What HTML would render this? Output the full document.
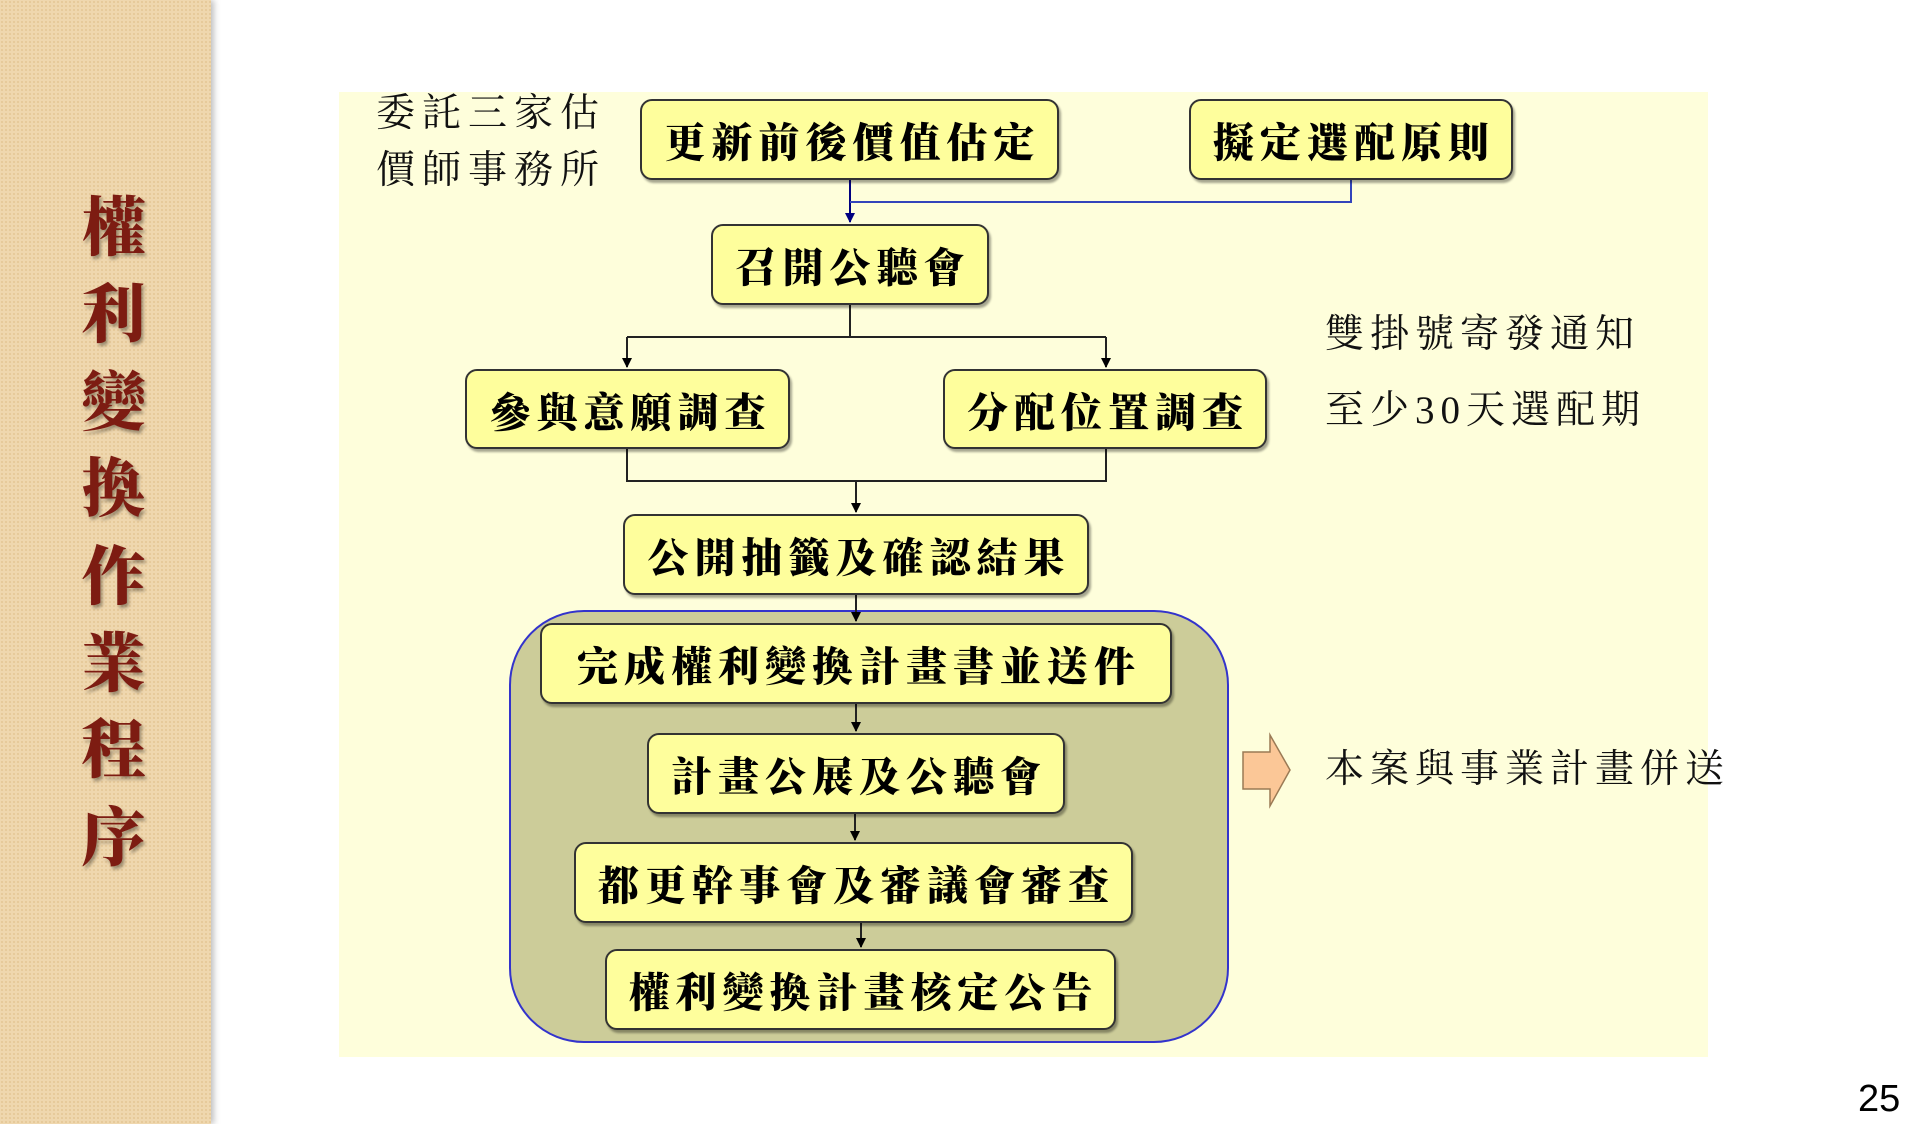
<!DOCTYPE html>
<html><head><meta charset="utf-8">
<style>
html,body{margin:0;padding:0;}
body{width:1920px;height:1124px;position:relative;background:#fff;overflow:hidden;font-family:"Liberation Serif","Noto Serif CJK SC",serif;}
#side{position:absolute;left:0;top:0;width:211px;height:1124px;background:#efd7ae;
background-image:radial-gradient(#e6c999 1px,transparent 1.2px);background-size:4px 4px;box-shadow:3px 0 6px rgba(0,0,0,0.25);}
.vt{position:absolute;left:80px;width:67px;text-align:center;font-size:64px;font-weight:900;color:#7d1c12;text-shadow:2px 3px 3px rgba(0,0,0,0.35);line-height:1;}
#panel{position:absolute;left:339px;top:92px;width:1369px;height:965px;background:#fefedb;}
.box{position:absolute;box-sizing:border-box;background:#fefe9c;border:2px solid #333;border-radius:12px;box-shadow:2px 3px 2px rgba(0,0,0,0.35);
display:flex;align-items:center;justify-content:center;font-size:41px;font-weight:900;color:#000;letter-spacing:6px;white-space:nowrap;padding-left:6px;}
.txt{position:absolute;font-size:39px;color:#111;white-space:nowrap;letter-spacing:6px;line-height:1;}
#group{position:absolute;left:509px;top:610px;width:720px;height:433px;box-sizing:border-box;background:#cccc99;border:2px solid #3333cc;border-radius:75px;}
svg{position:absolute;left:0;top:0;}
</style></head><body>
<div id="side"></div>
<div class="vt" style="top:197px">權</div>
<div class="vt" style="top:284px">利</div>
<div class="vt" style="top:372px">變</div>
<div class="vt" style="top:458px">換</div>
<div class="vt" style="top:546px">作</div>
<div class="vt" style="top:633px">業</div>
<div class="vt" style="top:719px">程</div>
<div class="vt" style="top:807px">序</div>
<div id="panel"></div>
<div id="group"></div>
<div class="txt" style="left:376px;top:94px;letter-spacing:7px">委託三家估</div>
<div class="txt" style="left:376px;top:151px;letter-spacing:7px">價師事務所</div>
<div class="txt" style="left:1325px;top:315px">雙掛號寄發通知</div>
<div class="txt" style="left:1325px;top:391px">至少30天選配期</div>
<div class="txt" style="left:1325px;top:750px">本案與事業計畫併送</div>
<div style="position:absolute;left:1858px;top:1078px;font-family:'Liberation Sans',sans-serif;font-size:38px;color:#000">25</div>
<svg width="1920" height="1124">
<defs>
<marker id="ab" markerWidth="10" markerHeight="10" refX="9" refY="5" orient="auto" markerUnits="userSpaceOnUse"><path d="M0,0 L10,5 L0,10 z" fill="#000080"/></marker>
<marker id="ak" markerWidth="10" markerHeight="10" refX="9" refY="5" orient="auto" markerUnits="userSpaceOnUse"><path d="M0,0 L10,5 L0,10 z" fill="#000"/></marker>
</defs>
<g fill="none" stroke-width="2">
<path d="M850 180 V222" stroke="#000080" marker-end="url(#ab)"/>
<path d="M850 202 H1351 V180" stroke="#3344bb"/>
<g stroke="#222">
<path d="M850 305 V337"/>
<path d="M627 337 H1106"/>
<path d="M627 337 V367" marker-end="url(#ak)"/>
<path d="M1106 337 V367" marker-end="url(#ak)"/>
<path d="M627 449 V481 H1106 V449"/>
<path d="M856 481 V512" marker-end="url(#ak)"/>
<path d="M856 595 V621" marker-end="url(#ak)"/>
<path d="M856 704 V731" marker-end="url(#ak)"/>
<path d="M855 814 V840" marker-end="url(#ak)"/>
<path d="M861 923 V947" marker-end="url(#ak)"/>
</g>
</g>
<path d="M1243 752 H1270 V735 L1290 770 L1270 806 V789 H1243 Z" fill="#fbc797" stroke="#9a7a55" stroke-width="1.5"/>
</svg>
<div class="box" style="left:640px;top:99px;width:419px;height:81px">更新前後價值估定</div>
<div class="box" style="left:1189px;top:99px;width:324px;height:81px">擬定選配原則</div>
<div class="box" style="left:711px;top:224px;width:278px;height:81px">召開公聽會</div>
<div class="box" style="left:465px;top:369px;width:325px;height:80px">參與意願調查</div>
<div class="box" style="left:943px;top:369px;width:324px;height:80px">分配位置調查</div>
<div class="box" style="left:623px;top:514px;width:466px;height:81px">公開抽籤及確認結果</div>
<div class="box" style="left:540px;top:623px;width:632px;height:81px">完成權利變換計畫書並送件</div>
<div class="box" style="left:647px;top:733px;width:418px;height:81px">計畫公展及公聽會</div>
<div class="box" style="left:574px;top:842px;width:559px;height:81px">都更幹事會及審議會審查</div>
<div class="box" style="left:605px;top:949px;width:511px;height:81px">權利變換計畫核定公告</div>
</body></html>
